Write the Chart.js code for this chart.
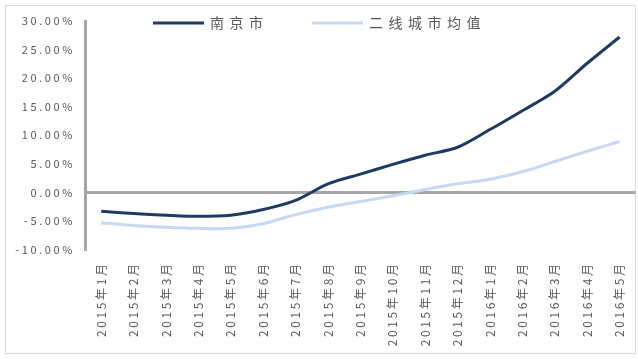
<!DOCTYPE html>
<html>
<head>
<meta charset="utf-8">
<script src="https://cdn.jsdelivr.net/npm/chart.js@4/dist/chart.umd.min.js"></script>
<style>
  body { margin: 0; background: #fff; }
  #wrap { position: relative; width: 638px; height: 359px; }
  #frame { position: absolute; left: 5px; top: 5px; width: 629px; height: 347px; border: 1px solid #d9d9d9; }
  #chart { position: absolute; left: 0; top: 0; }
</style>
</head>
<body>
<div id="wrap">
  <div id="frame"></div>
  <canvas id="chart" width="638" height="359"></canvas>
</div>
<script>
// Months on the x axis
const months = ['2015年1月', '2015年2月', '2015年3月', '2015年4月', '2015年5月', '2015年6月',
  '2015年7月', '2015年8月', '2015年9月', '2015年10月', '2015年11月', '2015年12月',
  '2016年1月', '2016年2月', '2016年3月', '2016年4月', '2016年5月'];

// Year-on-year change, percent
const nanjing = [-3.3, -3.7, -4.0, -4.2, -4.0, -3.0, -1.4, 1.5, 3.2, 4.9, 6.5, 7.9, 11.0, 14.3, 17.7, 22.6, 27.2];
const tier2Avg = [-5.3, -5.8, -6.1, -6.3, -6.3, -5.5, -3.9, -2.6, -1.6, -0.6, 0.5, 1.5, 2.3, 3.6, 5.4, 7.2, 8.9];

const seriesNames = ['南京市', '二线城市均值'];
const seriesColors = ['#1f3b63', '#c6d9f0'];

// y axis range / step
const yMin = -10, yMax = 30, yStep = 5;

const textColor = '#595959';
const fontFamily = '"Noto Sans CJK SC", "Noto Sans", sans-serif';

// wide letter spacing like the original
const spacingPlugin = {
  id: 'spacing',
  beforeLayout(chart) { chart.ctx.letterSpacing = '2.6px'; },
  beforeDraw(chart) { chart.ctx.letterSpacing = '2.6px'; }
};

// legend drawn over the top of the plot
const legendPlugin = {
  id: 'topLegend',
  afterDraw(chart) {
    const ctx = chart.ctx;
    const items = [{ x: 153, w: 51 }, { x: 312, w: 51 }];
    ctx.save();
    ctx.letterSpacing = '5.5px';
    ctx.font = '14px ' + fontFamily;
    ctx.textBaseline = 'middle';
    ctx.fillStyle = textColor;
    chart.data.datasets.forEach((ds, i) => {
      const it = items[i];
      ctx.strokeStyle = ds.borderColor;
      ctx.lineWidth = 3;
      ctx.beginPath();
      ctx.moveTo(it.x, 23);
      ctx.lineTo(it.x + it.w, 23);
      ctx.stroke();
      ctx.fillText(ds.label, it.x + it.w + 6, 23);
    });
    ctx.restore();
  }
};

new Chart(document.getElementById('chart'), {
  type: 'line',
  data: {
    labels: months,
    datasets: [
      { label: seriesNames[0], data: nanjing, borderColor: seriesColors[0], borderWidth: 3, pointRadius: 0, tension: 0.3, fill: false },
      { label: seriesNames[1], data: tier2Avg, borderColor: seriesColors[1], borderWidth: 3, pointRadius: 0, tension: 0.3, fill: false }
    ]
  },
  options: {
    responsive: false,
    animation: false,
    layout: { padding: { top: 21, right: 0, bottom: 0, left: 0 } },
    plugins: {
      legend: { display: false },
      tooltip: { enabled: false }
    },
    scales: {
      x: {
        offset: true,
        grid: { display: false },
        border: { display: false },
        ticks: {
          autoSkip: false, minRotation: 90, maxRotation: 90, padding: 4,
          color: textColor, font: { size: 12, family: fontFamily }
        },
        afterFit(scale) { scale.height = 109.5; }
      },
      y: {
        min: yMin, max: yMax,
        border: { display: true, color: '#a6a6a6', width: 3 },
        grid: {
          drawTicks: false,
          lineWidth: 3,
          color: c => (c.tick && c.tick.value === 0) ? '#a6a6a6' : 'rgba(0,0,0,0)'
        },
        ticks: {
          stepSize: yStep, padding: 10,
          color: textColor, font: { size: 11, family: fontFamily },
          callback: v => v.toFixed(2) + '%'
        },
        afterFit(scale) { scale.width = 85; }
      }
    }
  },
  plugins: [spacingPlugin, legendPlugin]
});
</script>
</body>
</html>
